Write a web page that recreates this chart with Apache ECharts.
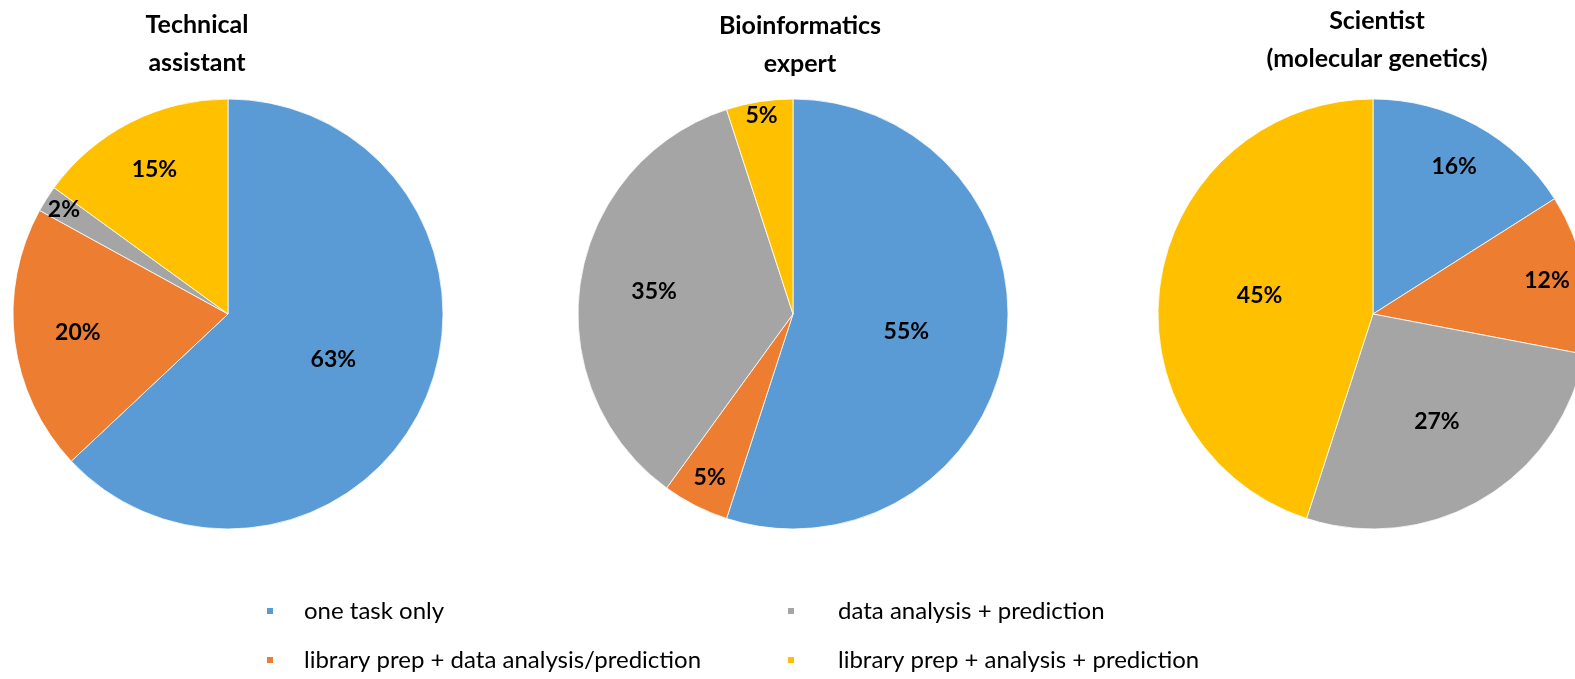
<!DOCTYPE html>
<html>
<head>
<meta charset="utf-8">
<script src="https://cdn.jsdelivr.net/npm/echarts@6/dist/echarts.min.js"></script>
<style>html,body{margin:0;padding:0;background:#fff;}#chart{width:1575px;height:679px;}</style>
</head>
<body>
<div id="chart"></div>
<script>
// ---- data ----
const categories = ['one task only', 'library prep + data analysis/prediction', 'data analysis + prediction', 'library prep + analysis + prediction'];
const pieTitles = ['Technical\nassistant', 'Bioinformatics\nexpert', 'Scientist\n(molecular genetics)'];
const technicalAssistant = [63, 20, 2, 15];
const bioinformaticsExpert = [55, 5, 35, 5];
const scientistMolGenetics = [16, 12, 27, 45];

// ---- styles / layout ----
const colors = ['#5B9BD5', '#ED7D31', '#A5A5A5', '#FFC000'];
const FONT = 'Lato, "Open Sans", sans-serif';
const R = 215;
const layout = [
  { center: [228, 314], title: [197, 6], labelFrac: [0.52, 0.69, 0.89, 0.74] },
  { center: [793, 314], title: [800, 7], labelFrac: [0.52, 0.84, 0.64, 0.92] },
  { center: [1373, 314], title: [1377, 2], labelFrac: [0.77, 0.81, 0.57, 0.52] }
];
const allValues = [technicalAssistant, bioinformaticsExpert, scientistMolGenetics];

const series = [];
const titles = [];
allValues.forEach((vals, p) => {
  const L = layout[p];
  const data = vals.map((v, i) => ({ name: categories[i], value: v }));
  series.push({
    type: 'pie', center: L.center, radius: [0, R], startAngle: 90, clockwise: true,
    data: data, label: { show: false }, labelLine: { show: false },
    itemStyle: { borderColor: '#fff', borderWidth: 0.8 },
    emphasis: { disabled: true }, silent: true, animation: false
  });
  // label carriers: transparent pies whose mid-radius matches the label radius
  vals.forEach((v, i) => {
    series.push({
      type: 'pie', center: L.center, radius: [0, 2 * L.labelFrac[i] * R], startAngle: 90, clockwise: true,
      data: data.map((d, j) => ({
        name: d.name, value: d.value,
        itemStyle: { color: 'rgba(0,0,0,0)' },
        label: { show: j === i }
      })),
      label: { position: 'inside', formatter: '{c}%', color: '#000', fontFamily: FONT, fontWeight: 'bold', fontSize: 23 },
      labelLine: { show: false },
      itemStyle: { borderWidth: 0 },
      emphasis: { disabled: true }, silent: true, animation: false, z: 5
    });
  });
  titles.push({
    text: pieTitles[p], left: L.title[0], top: L.title[1], textAlign: 'center', padding: 0,
    textStyle: { fontFamily: FONT, fontWeight: 'bold', fontSize: 25, lineHeight: 38, color: '#000' }
  });
});

const legendText = { fontFamily: FONT, fontSize: 24, lineHeight: 26, color: '#000', padding: [0, 0, 0, 25] };
const legendBase = { orient: 'vertical', top: 598, height: 120, padding: 0, itemWidth: 8, itemHeight: 8, icon: 'rect', itemGap: 23, selectedMode: false };
const option = {
  backgroundColor: '#fff',
  color: colors,
  animation: false,
  title: titles,
  legend: [
    Object.assign({}, legendBase, { data: [categories[0], categories[1]], left: 265, textStyle: legendText }),
    Object.assign({}, legendBase, { data: [categories[2], categories[3]], left: 786, textStyle: Object.assign({}, legendText, { padding: [0, 0, 0, 38] }) })
  ],
  series: series
};
const chart = echarts.init(document.getElementById('chart'), null, { renderer: 'canvas' });
chart.setOption(option);
</script>
</body>
</html>
